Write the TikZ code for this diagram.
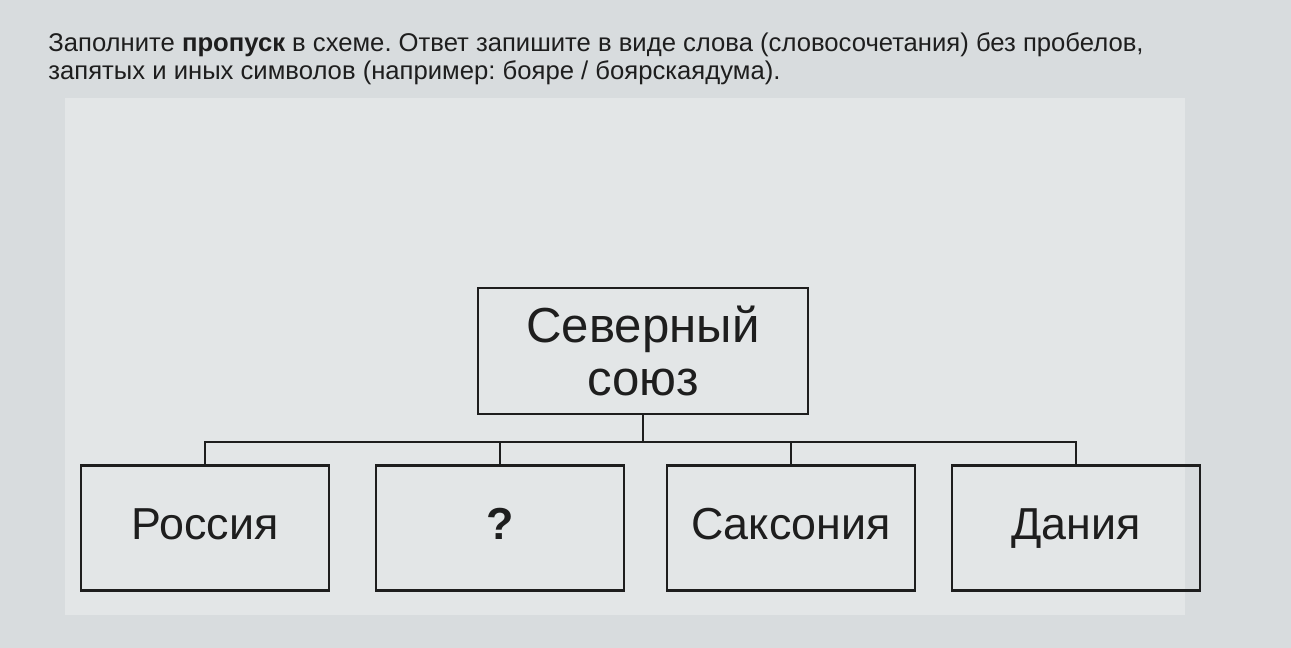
\documentclass[tikz,border=0pt]{standalone}
\usepackage{fontspec}
\setmainfont{Liberation Sans}
\frenchspacing
\definecolor{screen}{RGB}{216,220,222}
\definecolor{card}{RGB}{227,230,231}
\definecolor{ink}{RGB}{30,30,30}
\begin{document}
\begin{tikzpicture}[x=0.02cm,y=-0.02cm,
  box/.style={draw=ink,line width=1.2pt,minimum width=4.96cm,minimum height=2.5cm,
    text=ink,font=\fontsize{25.5}{30}\selectfont},
  one/.style={text height=0.66cm,text depth=0.2cm},
  link/.style={draw=ink,line width=1.2pt},
  task/.style={anchor=base west,inner sep=0pt,text=ink,font=\fontsize{14.6}{18}\selectfont}]
\useasboundingbox (0,0) rectangle (1291,648);
\fill[screen] (0,0) rectangle (1291,648);
\fill[card] (65,98) rectangle (1185,615);
% task text
\node[task] (line1) at (48,52) {Заполните \textbf{пропуск} в схеме. Ответ запишите в виде слова (словосочетания) без пробелов,};
\node[task] (line2) at (48,80) {запятых и иных символов (например: бояре / боярскаядума).};
% scheme
\node[box,minimum width=6.6cm,minimum height=2.52cm,align=center,
  font=\fontsize{28}{30}\selectfont] (union) at (643,351) {Северный\\союз};
\node[box,one] (russia) at (205,528) {Россия};
\node[box,one,font=\fontsize{25.5}{30}\selectfont\bfseries] (gap) at (500,528) {?};
\node[box,one] (saxony) at (791,528) {Саксония};
\node[box,one] (denmark) at (1076,528) {Дания};
\coordinate (bar) at (643,442);
\draw[link] (union.south) -- (bar);
\draw[link] (russia.north) |- (bar) -| (denmark.north);
\draw[link] (gap.north) -- (gap.north|-bar);
\draw[link] (saxony.north) -- (saxony.north|-bar);
\end{tikzpicture}
\end{document}
